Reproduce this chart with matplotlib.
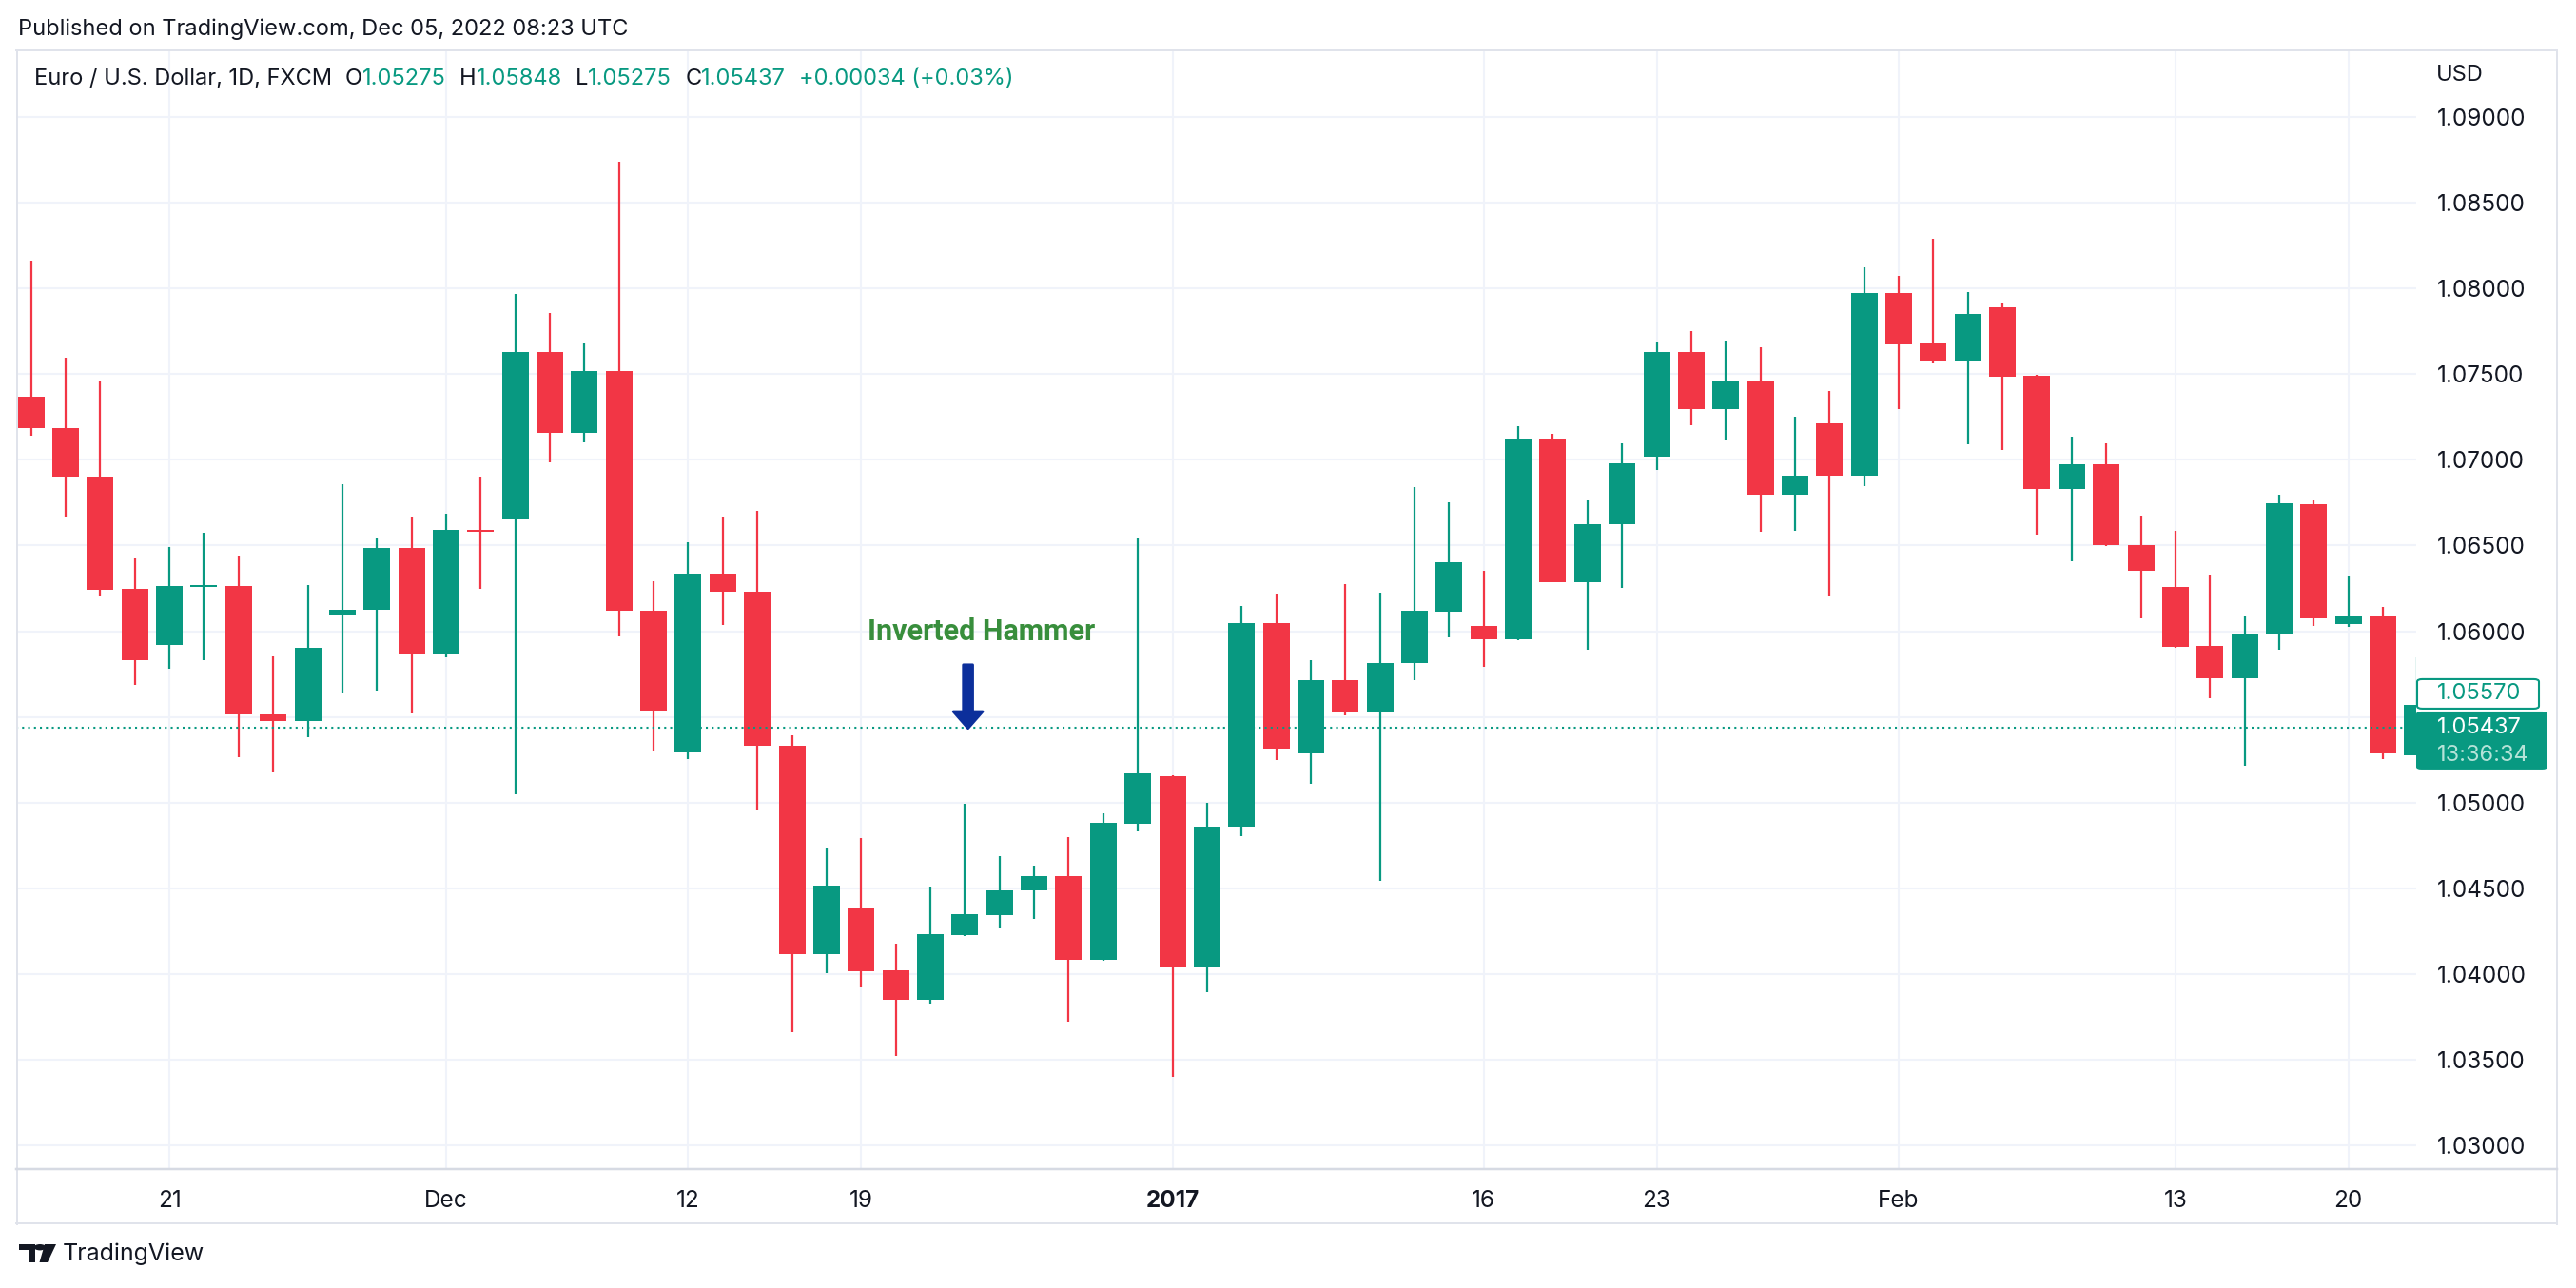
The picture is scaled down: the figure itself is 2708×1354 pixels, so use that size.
import numpy as np
import matplotlib.pyplot as plt
from matplotlib.patches import FancyArrow, FancyBboxPatch, Polygon, Circle
from matplotlib.lines import Line2D

plt.rcParams['font.family'] = ['Inter', 'DejaVu Sans']

# daily EUR/USD candles
dates = ["2016-11-15", "2016-11-16", "2016-11-17", "2016-11-18", "2016-11-21",
         "2016-11-22", "2016-11-23", "2016-11-24", "2016-11-25", "2016-11-28",
         "2016-11-29", "2016-11-30", "2016-12-01", "2016-12-02", "2016-12-05",
         "2016-12-06", "2016-12-07", "2016-12-08", "2016-12-09", "2016-12-12",
         "2016-12-13", "2016-12-14", "2016-12-15", "2016-12-16", "2016-12-19",
         "2016-12-20", "2016-12-21", "2016-12-22", "2016-12-23", "2016-12-27",
         "2016-12-28", "2016-12-29", "2016-12-30", "2017-01-03", "2017-01-04",
         "2017-01-05", "2017-01-06", "2017-01-09", "2017-01-10", "2017-01-11",
         "2017-01-12", "2017-01-13", "2017-01-16", "2017-01-17", "2017-01-18",
         "2017-01-19", "2017-01-20", "2017-01-23", "2017-01-24", "2017-01-25",
         "2017-01-26", "2017-01-27", "2017-01-30", "2017-01-31", "2017-02-01",
         "2017-02-02", "2017-02-03", "2017-02-06", "2017-02-07", "2017-02-08",
         "2017-02-09", "2017-02-10", "2017-02-13", "2017-02-14", "2017-02-15",
         "2017-02-16", "2017-02-17", "2017-02-20", "2017-02-21", "2017-02-22"]

opens = [1.07366, 1.07187, 1.06904, 1.06247, 1.05917, 1.06258, 1.06264, 1.05515, 1.05473, 1.06100,
         1.06123, 1.06488, 1.05862, 1.06592, 1.06654, 1.07632, 1.07160, 1.07520, 1.06120, 1.05293,
         1.06336, 1.06232, 1.05331, 1.04117, 1.04383, 1.04021, 1.03851, 1.04227, 1.04344, 1.04485,
         1.04570, 1.04083, 1.04878, 1.05154, 1.04040, 1.04857, 1.06049, 1.05286, 1.05717, 1.05530,
         1.05813, 1.06114, 1.06032, 1.05952, 1.07126, 1.06287, 1.06624, 1.07018, 1.07628, 1.07296,
         1.07460, 1.06797, 1.07211, 1.06908, 1.07972, 1.07677, 1.07575, 1.07892, 1.07488, 1.06828,
         1.06977, 1.06503, 1.06260, 1.05916, 1.05725, 1.05978, 1.06741, 1.06044, 1.06084, 1.05275]
highs = [1.08165, 1.07594, 1.07455, 1.06426, 1.06493, 1.06577, 1.06438, 1.05852, 1.06269, 1.06855,
         1.06542, 1.06664, 1.06686, 1.06900, 1.07967, 1.07855, 1.07681, 1.08738, 1.06293, 1.06517,
         1.06667, 1.06700, 1.05392, 1.04738, 1.04793, 1.04176, 1.04510, 1.04993, 1.04687, 1.04631,
         1.04799, 1.04937, 1.06543, 1.05160, 1.04999, 1.06149, 1.06222, 1.05833, 1.06273, 1.06227,
         1.06842, 1.06755, 1.06355, 1.07194, 1.07154, 1.06766, 1.07095, 1.07693, 1.07749, 1.07698,
         1.07656, 1.07251, 1.07404, 1.08121, 1.08076, 1.08289, 1.07977, 1.07910, 1.07498, 1.07138,
         1.07094, 1.06677, 1.06583, 1.06332, 1.06087, 1.06794, 1.06764, 1.06323, 1.06143, 1.05848]
lows = [1.07140, 1.06661, 1.06200, 1.05689, 1.05783, 1.05833, 1.05262, 1.05177, 1.05383, 1.05634,
        1.05651, 1.05522, 1.05845, 1.06249, 1.05046, 1.06984, 1.07100, 1.05971, 1.05305, 1.05256,
        1.06037, 1.04961, 1.03662, 1.04006, 1.03921, 1.03524, 1.03826, 1.04222, 1.04268, 1.04323,
        1.03724, 1.04078, 1.04833, 1.03400, 1.03896, 1.04804, 1.05250, 1.05108, 1.05507, 1.04541,
        1.05714, 1.05964, 1.05791, 1.05950, 1.06285, 1.05890, 1.06253, 1.06942, 1.07202, 1.07115,
        1.06579, 1.06584, 1.06202, 1.06846, 1.07297, 1.07562, 1.07089, 1.07057, 1.06563, 1.06407,
        1.06498, 1.06074, 1.05905, 1.05608, 1.05214, 1.05891, 1.06033, 1.06026, 1.05251, 1.05275]
closes = [1.07185, 1.06902, 1.06244, 1.05833, 1.06264, 1.06268, 1.05512, 1.05473, 1.05904, 1.06123,
          1.06488, 1.05862, 1.06592, 1.06582, 1.07632, 1.07160, 1.07520, 1.06118, 1.05535, 1.06336,
          1.06228, 1.05329, 1.04117, 1.04514, 1.04017, 1.03851, 1.04232, 1.04349, 1.04487, 1.04570,
          1.04083, 1.04882, 1.05171, 1.04040, 1.04859, 1.06049, 1.05312, 1.05717, 1.05530, 1.05816,
          1.06117, 1.06400, 1.05952, 1.07126, 1.06287, 1.06627, 1.06981, 1.07628, 1.07296, 1.07460,
          1.06797, 1.06905, 1.06908, 1.07972, 1.07674, 1.07575, 1.07850, 1.07486, 1.06828, 1.06977,
          1.06501, 1.06352, 1.05911, 1.05725, 1.05983, 1.06744, 1.06077, 1.06084, 1.05288, 1.05570]

tick_dates = ["2016-11-21", "2016-12-01", "2016-12-12", "2016-12-19", "2017-01-03",
              "2017-01-16", "2017-01-23", "2017-02-01", "2017-02-13", "2017-02-20"]
tick_labels = ["21", "Dec", "12", "19", "2017", "16", "23", "Feb", "13", "20"]
price_ticks = [1.03, 1.035, 1.04, 1.045, 1.05, 1.055, 1.06, 1.065, 1.07, 1.075, 1.08, 1.085, 1.09]
hidden_ticks = [1.055]   # covered by the price labels on the axis

last_price = 1.05437
other_price = 1.05570
countdown = "13:36:34"
hammer_date = "2016-12-22"
arrow_top, arrow_tip = 1.05804, 1.05433
text_price = 1.0595

GREEN = "#089981"
RED = "#f23645"
DARK = "#131722"
GRID = "#f0f3fa"
BORDER = "#e0e3eb"

W, H = 2708, 1354
def fx(x):
    return x / W
def fy(y):
    return 1 - y / H

fig = plt.figure(figsize=(W / 100, H / 100), dpi=100)
fig.patch.set_facecolor("white")
ax = fig.add_axes([fx(17), fy(1229), fx(2540) - fx(17), fy(53) - fy(1229)])

idx = np.arange(len(dates))
o = np.array(opens); h = np.array(highs); l = np.array(lows); c = np.array(closes)
up = c >= o
cols = np.where(up, GREEN, RED)

ax.vlines(idx, l, h, colors=cols, linewidth=1.6, zorder=3)
bottoms = np.minimum(o, c)
heights = np.maximum(np.abs(c - o), 0.00007)
ax.bar(idx, heights, bottom=bottoms, width=0.77, color=cols, linewidth=0, zorder=4)

ax.axhline(last_price, color=GREEN, linestyle=(0, (1, 2)), linewidth=1.5, zorder=5)

ax.set_xlim(-0.43, 68.96)
ax.set_ylim(1.02861, 1.09389)

tick_pos = [dates.index(d) for d in tick_dates]
ax.set_xticks(tick_pos)
ax.set_xticklabels(tick_labels)
ax.set_yticks(price_ticks)
ax.set_yticklabels(["" if p in hidden_ticks else "%.5f" % p for p in price_ticks])
ax.yaxis.tick_right()
ax.tick_params(axis="y", length=0, pad=16, labelsize=17.5, labelcolor=DARK)
ax.tick_params(axis="x", length=0, pad=16, labelsize=17.5, labelcolor=DARK)
for lab in ax.get_xticklabels():
    if lab.get_text() == "2017":
        lab.set_fontweight("bold")
ax.grid(True, color=GRID, linewidth=1.5, zorder=0)
ax.set_axisbelow(True)
for s in ax.spines.values():
    s.set_visible(False)

# annotation
hi = dates.index(hammer_date)
ax.text(hi + 0.48, text_price, "Inverted Hammer", ha="center", va="baseline",
        fontsize=22, fontweight="bold", color="#388e3c", family=["Roboto", "DejaVu Sans"], zorder=6)
ax.add_patch(FancyArrow(hi + 0.09, arrow_top, 0, arrow_tip - arrow_top, width=0.27,
                        head_width=0.85, head_length=0.00098, length_includes_head=True,
                        facecolor="#0c2f9b", edgecolor="#0c2f9b", linewidth=2,
                        joinstyle="round", zorder=6))

# borders of the chart frame
for (x0, y0, x1, y1, col, lw) in [(17, 53, 2688, 53, BORDER, 2), (18, 53, 18, 1287, BORDER, 2),
                                  (2688, 53, 2688, 1287, BORDER, 2), (17, 1286, 2688, 1286, BORDER, 2),
                                  (17, 1229, 2688, 1229, "#d6dae3", 2.5)]:
    fig.add_artist(Line2D([fx(x0), fx(x1)], [fy(y0), fy(y1)], color=col, linewidth=lw * 0.72))

# price labels on the axis
def price_px(p):
    return H - ax.transData.transform((0, p))[1]

py = price_px(last_price)
fig.add_artist(FancyBboxPatch((fx(2540), fy(py + 44)), fx(2678) - fx(2540), 61 / H,
                              boxstyle="round,pad=0,rounding_size=0.002", facecolor=GREEN,
                              edgecolor="none", transform=fig.transFigure, zorder=10))
fig.text(fx(2562), fy(py), "%.5f" % last_price, color="white", fontsize=17, va="center", ha="left", zorder=11)
fig.text(fx(2562), fy(py + 29), countdown, color="#b5e3d8", fontsize=17, va="center", ha="left", zorder=11)
oy = py - 36
fig.add_artist(FancyBboxPatch((fx(2541), fy(oy + 16)), fx(2669) - fx(2541), 31 / H,
                              boxstyle="round,pad=0,rounding_size=0.002", facecolor="white",
                              edgecolor=GREEN, linewidth=1.5, transform=fig.transFigure, zorder=10))
fig.text(fx(2562), fy(oy), "%.5f" % other_price, color=GREEN, fontsize=17, va="center", ha="left", zorder=11)

fig.text(fx(2561), fy(79), "USD", color=DARK, fontsize=17, va="center", ha="left")
fig.text(fx(19), fy(31), "Published on TradingView.com, Dec 05, 2022 08:23 UTC",
         color=DARK, fontsize=17, va="center", ha="left")

# legend line, pieces laid out one after another
renderer = fig.canvas.get_renderer()
pieces = [("Euro / U.S. Dollar, 1D, FXCM", DARK), None, ("O", DARK), ("1.05275", GREEN), None,
          ("H", DARK), ("1.05848", GREEN), None, ("L", DARK), ("1.05275", GREEN), None,
          ("C", DARK), ("1.05437", GREEN), None, ("+0.00034 (+0.03%)", GREEN)]
x = 36
for p in pieces:
    if p is None:
        x += 14
        continue
    t = fig.text(fx(x), fy(83), p[0], color=p[1], fontsize=17, va="center", ha="left")
    x += t.get_window_extent(renderer).width

# TradingView logo
fig.add_artist(Polygon([[fx(20), fy(1308)], [fx(37), fy(1308)], [fx(37), fy(1327)],
                        [fx(29.5), fy(1327)], [fx(29.5), fy(1314)], [fx(20), fy(1314)]],
                       closed=True, facecolor=DARK, edgecolor="none", transform=fig.transFigure))
fig.add_artist(Circle((fx(42), fy(1311.2)), 3.2 / H, facecolor=DARK, edgecolor="none",
                      transform=fig.transFigure))
fig.add_artist(Polygon([[fx(47), fy(1308)], [fx(59), fy(1308)], [fx(50), fy(1327)], [fx(41.5), fy(1327)]],
                       closed=True, facecolor=DARK, edgecolor="none", transform=fig.transFigure))
fig.text(fx(66), fy(1318), "TradingView", color=DARK, fontsize=18, va="center", ha="left")

plt.savefig("out.png", dpi=100, facecolor="white")
